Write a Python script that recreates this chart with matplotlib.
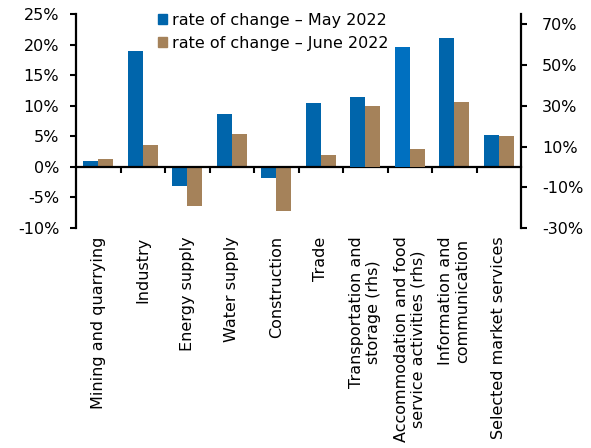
import matplotlib.pyplot as plt
import numpy as np

categories = ["Mining and quarrying", "Industry", "Energy supply", "Water supply",
              "Construction", "Trade", "Transportation and\nstorage (rhs)",
              "Accommodation and food\nservice activities (rhs)",
              "Information and\ncommunication", "Selected market services"]
may_2022 = [1.0, 18.9, -3.1, 8.7, -1.8, 10.5, 34.2, 58.8, 21.0, 5.2]
june_2022 = [1.3, 3.6, -6.4, 5.3, -7.2, 1.9, 29.8, 8.6, 10.6, 5.1]
on_rhs = [False, False, False, False, False, False, True, True, False, False]

c_may = "#0065AB"
c_jun = "#A5825A"
fs = 11.5

fig = plt.figure(figsize=(5.91, 4.48), dpi=100)
ax = fig.add_axes([0.1286, 0.491, 0.7530, 0.4777])
ax2 = ax.twinx()

x = np.arange(len(categories))
w = 0.34
for i in range(len(categories)):
    a = ax2 if on_rhs[i] else ax
    cm = "#0070C0" if i == 7 else c_may
    a.bar(x[i] - w / 2, may_2022[i], w, color=cm, edgecolor="none")
    a.bar(x[i] + w / 2, june_2022[i], w, color=c_jun, edgecolor="none")

ax.set_xlim(-0.5, len(categories) - 0.5)
ax.set_ylim(-10, 25)
ax2.set_ylim(-30, 75)
ax.set_yticks(np.arange(-10, 26, 5))
ax.set_yticklabels([f"{v}%" for v in range(-10, 26, 5)], fontsize=fs)
ax2.set_yticks([-30, -10, 10, 30, 50, 70])
ax2.set_yticklabels([f"{v}%" for v in [-30, -10, 10, 30, 50, 70]], fontsize=fs)

for a in (ax, ax2):
    a.spines["top"].set_visible(False)
    a.spines["bottom"].set_position(("data", 0))
    for s in ("left", "right", "bottom"):
        a.spines[s].set_linewidth(1.6)
ax.spines["right"].set_visible(False)
ax2.spines["left"].set_visible(False)
ax2.spines["bottom"].set_visible(False)

ax.set_xticks(x)
ax.set_xticklabels(categories, rotation=90, fontsize=fs, ha="center", va="top",
                   multialignment="center", linespacing=1.15)
ax.set_xticks(np.arange(0.5, len(categories) - 0.5, 1), minor=True)
ax.tick_params(axis="x", which="major", length=0, pad=50)
ax.tick_params(axis="x", which="minor", length=4, width=1.5, direction="out")
ax.tick_params(axis="y", length=4, width=1.5, direction="out", pad=8)
ax2.tick_params(axis="y", length=4, width=1.5, direction="out", pad=11)

h1 = plt.Rectangle((0, 0), 1, 1, color=c_may)
h2 = plt.Rectangle((0, 0), 1, 1, color=c_jun)
ax.legend([h1, h2], ["rate of change – May 2022", "rate of change – June 2022"],
          loc="upper left", bbox_to_anchor=(0.17, 1.035), frameon=False,
          fontsize=fs, handlelength=0.55, handleheight=0.55, handletextpad=0.3,
          labelspacing=0.5, borderaxespad=0)

fig.savefig("out.png", dpi=100)
